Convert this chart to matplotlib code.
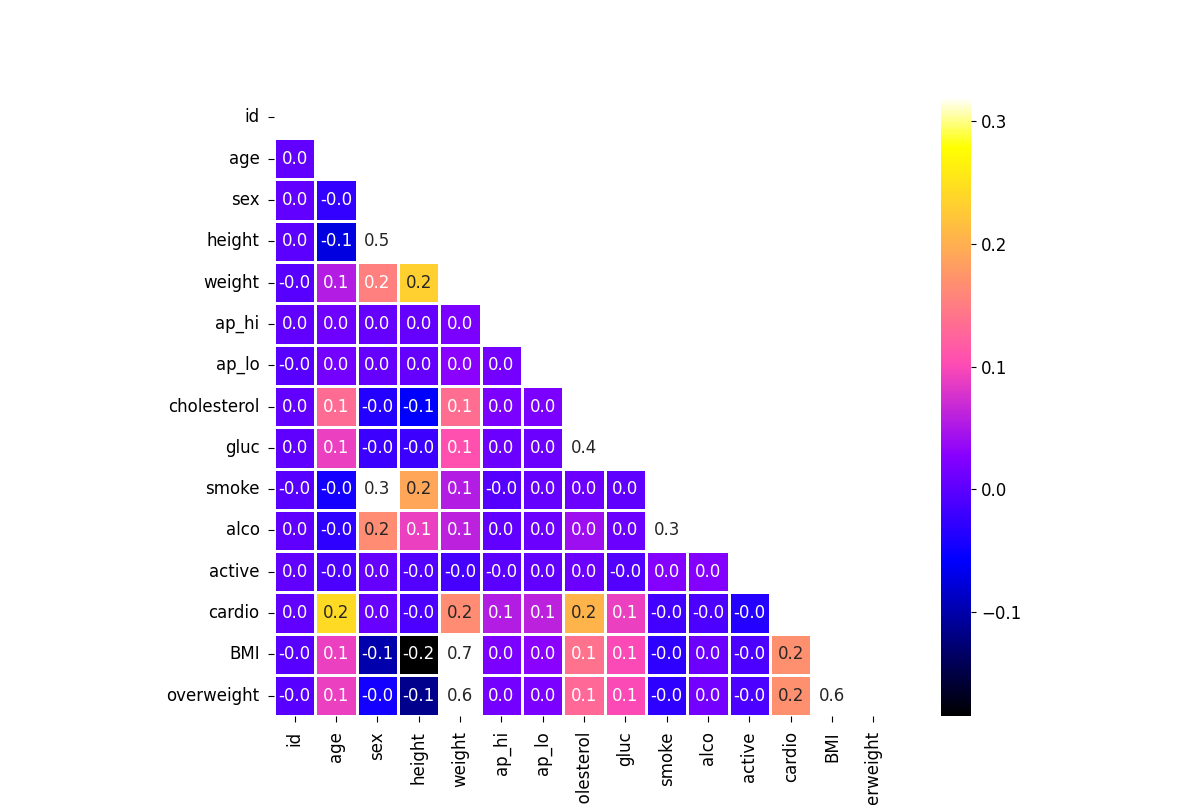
import numpy as np
import pandas as pd
import matplotlib
matplotlib.use('Agg')
import matplotlib.pyplot as plt
import seaborn as sns

plt.rcParams['font.size'] = 12

labels = ['id', 'age', 'sex', 'height', 'weight', 'ap_hi', 'ap_lo',
          'cholesterol', 'gluc', 'smoke', 'alco', 'active', 'cardio',
          'BMI', 'overweight']

# lower triangle of the correlation matrix, one row per variable
lower = [
    [],
    [0.003],
    [0.003, -0.027],
    [0.000, -0.074, 0.499],
    [-0.002, 0.055, 0.153, 0.232],
    [0.003, 0.012, 0.006, 0.005, 0.020],
    [-0.003, 0.015, 0.006, 0.005, 0.030, 0.015],
    [0.004, 0.134, -0.037, -0.058, 0.135, 0.020, 0.020],
    [0.002, 0.090, -0.020, -0.020, 0.105, 0.010, 0.010, 0.420],
    [-0.003, -0.046, 0.338, 0.190, 0.055, -0.005, 0.005, 0.010, 0.001],
    [0.001, -0.030, 0.166, 0.090, 0.060, 0.003, 0.010, 0.040, 0.010, 0.340],
    [0.004, -0.010, 0.006, -0.007, -0.015, -0.001, 0.004, 0.010, -0.007,
     0.026, 0.025],
    [0.004, 0.242, 0.008, -0.010, 0.166, 0.055, 0.060, 0.204, 0.090,
     -0.016, -0.010, -0.037],
    [-0.002, 0.090, -0.100, -0.185, 0.730, 0.020, 0.030, 0.140, 0.100,
     -0.030, 0.010, -0.010, 0.170],
    [-0.002, 0.090, -0.045, -0.114, 0.600, 0.015, 0.020, 0.130, 0.100,
     -0.030, 0.015, -0.010, 0.170, 0.600],
]

n = len(labels)
corr = np.eye(n)
for i, row in enumerate(lower):
    for j, v in enumerate(row):
        corr[i, j] = v
        corr[j, i] = v
corr = pd.DataFrame(corr, index=labels, columns=labels)

mask = np.triu(np.ones_like(corr, dtype=bool))

fig, ax = plt.subplots(figsize=(12, 8.05))
sns.heatmap(corr, mask=mask, annot=True, fmt='.1f', vmax=0.32,
            cmap='gnuplot2', square=True, linewidths=2, ax=ax)
ax.set_xticklabels(labels, rotation=90)
ax.set_yticklabels(labels, rotation=0)
ax.tick_params(length=4.5, pad=6)

fig.savefig('out.png', dpi=100)
